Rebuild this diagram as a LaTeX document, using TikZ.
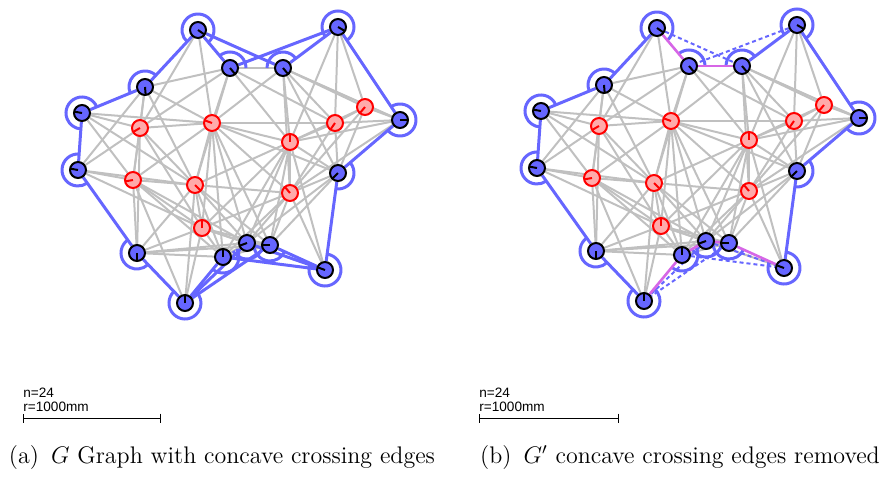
\documentclass[tikz,border=0pt]{standalone}
\usepackage{fontspec}
\newfontfamily\scalefont{Liberation Sans}
\usetikzlibrary{arrows.meta,backgrounds}
\definecolor{hullblue}{RGB}{102,102,255}
\definecolor{linkgray}{RGB}{192,192,192}
\definecolor{innerred}{RGB}{255,0,0}
\definecolor{innerfill}{RGB}{255,170,170}
\definecolor{cutpink}{RGB}{214,102,230}

% node positions in px (y down): boundary nodes 1-15, inner nodes 16-24
\def\nodex{{198,338,230,283,145,82,400,78,338,137,223,247,270,325,185,140,212,290,335,365,133,195,290,202}}
\def\nodey{{30,27,68,68,87,113,120,170,173,253,257,243,245,270,303,128,123,142,123,107,180,185,193,228}}
\def\nodehand{{-35,-30,-50,-50,-85,170,0,170,225,-90,90,200,180,160,90,210,160,90,235,230,190,-45,130,90}}

% boundary pairs of G, not drawn as plain links
\newcommand{\hullpair}[2]{\expandafter\gdef\csname hull#1-#2\endcsname{}}
\foreach \i/\j in {1/5,5/6,6/8,8/10,10/15,11/15,12/15,13/15,11/14,12/14,13/14,9/14,7/9,2/7,2/4,2/3,1/3,1/4}
  {\hullpair{\i}{\j}}

\tikzset{
  sensor/.style={circle, line width=1pt, minimum size=8pt, inner sep=0pt},
  outer/.style={sensor, draw=black, fill=hullblue},
  inner/.style={sensor, draw=innerred, fill=innerfill},
  link/.style={linkgray, line width=1pt},
  hull/.style={hullblue, line width=1.5pt},
  ring/.style={hullblue, line width=1.5pt},
  cut/.style={cutpink, line width=1.3pt},
  removed/.style={hullblue, line width=1pt, dash pattern=on 2pt off 1.5pt},
  scalebar/.style={line width=0.5pt, {Bar[width=4.5pt]}-{Bar[width=4.5pt]}},
  scaletext/.style={font=\scalefont\fontsize{6.8}{8}\selectfont, inner sep=0pt, anchor=base west},
  subcap/.style={font=\fontsize{12}{14}\selectfont, inner sep=0pt, anchor=base}
}

% one panel: #1 prefix, #2/#3 shift in px
\newcommand{\sensorgraph}[3]{%
  \foreach \i in {1,...,24} {
    \pgfmathsetmacro\px{\nodex[\i-1]+#2}
    \pgfmathsetmacro\py{\nodey[\i-1]+#3}
    \pgfmathsetmacro\ha{\nodehand[\i-1]}
    \ifnum\i<16
      \node[outer] (#1\i) at (\px,-\py) {};
      \draw[line width=1pt, black] (#1\i.center) -- ++(\ha:3.6pt);
    \else
      \node[inner] (#1\i) at (\px,-\py) {};
      \draw[line width=1pt, innerred] (#1\i.center) -- ++(\ha:3.6pt);
    \fi
  }
  \begin{scope}[on background layer]
    % links between nodes closer than r
    \foreach \i in {1,...,23} {
      \pgfmathtruncatemacro\nxt{\i+1}
      \foreach \j in {\nxt,...,24} {
        \pgfmathsetmacro\dist{veclen(\nodex[\i-1]-\nodex[\j-1],\nodey[\i-1]-\nodey[\j-1])}
        \ifdim\dist pt<138pt
          \ifcsname hull\i-\j\endcsname\else
            \draw[link] (#1\i) -- (#1\j);
          \fi
        \fi
      }
    }
    % rings round the boundary nodes
    \foreach \k/\s/\e in {1/-50/227,5/47/202,6/22/266,8/86/305,10/125/314,15/134/410,
        11/230/390,12/210/355,13/175/336,14/156/442,9/-98/40,7/-140/124,2/-56/217,4/37/180,3/0/130}
      \draw[ring] (#1\k.center) ++(\s:8pt) arc[start angle=\s, end angle=\e, radius=8pt];
  \end{scope}
}

\begin{document}
\begin{tikzpicture}[x=0.5pt, y=0.5pt]
  \useasboundingbox (0,0) rectangle (891,-477);

  % (a) G
  \sensorgraph{a}{0}{0}
  \begin{scope}[on background layer]
    \foreach \i/\j in {1/5,5/6,6/8,8/10,10/15,11/15,12/15,13/15,11/14,12/14,13/14,9/14,7/9,2/7,2/4,2/3,1/3,1/4}
      \draw[hull] (a\i) -- (a\j);
  \end{scope}
  \node[scaletext] (na) at (23,-397) {n=24};
  \node[scaletext] (ra) at (23,-411) {r=1000mm};
  \coordinate (sa0) at (23,-418);
  \coordinate (sa1) at (161,-418);
  \draw[scalebar] (sa0) -- (sa1);
  \node[subcap] (capa) at (222,-463) {(a)\enspace $G$ Graph with concave crossing edges};

  % (b) G'
  \sensorgraph{b}{459}{-2}
  \begin{scope}[on background layer]
    \foreach \i/\j in {1/5,5/6,6/8,8/10,10/15,9/14,7/9,2/7,2/4}
      \draw[hull] (b\i) -- (b\j);
    \foreach \i/\j in {1/4,2/3,12/15,13/15,11/14,12/14}
      \draw[removed] (b\i) -- (b\j);
    \foreach \i/\j in {1/3,3/4,11/15,11/12,12/13,13/14}
      \draw[cut] (b\i) -- (b\j);
  \end{scope}
  \node[scaletext] (nb) at (479,-397) {n=24};
  \node[scaletext] (rb) at (479,-411) {r=1000mm};
  \coordinate (sb0) at (479,-418);
  \coordinate (sb1) at (619,-418);
  \draw[scalebar] (sb0) -- (sb1);
  \node[subcap] (capb) at (680,-463) {(b)\enspace $G'$ concave crossing edges removed};
\end{tikzpicture}
\end{document}
